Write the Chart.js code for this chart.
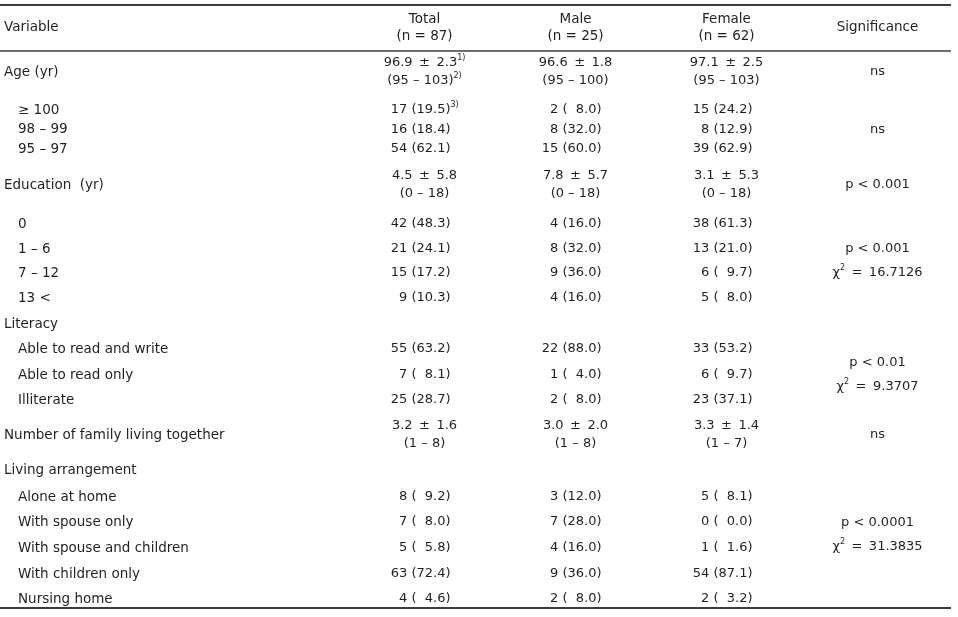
<!DOCTYPE html>
<html>
<head>
<meta charset="utf-8">
<script src="https://cdn.jsdelivr.net/npm/chart.js@4.4.1/dist/chart.umd.min.js"></script>
<style>
html,body{margin:0;padding:0;background:#ffffff;}
#wrap{width:958px;height:617px;position:relative;}
</style>
</head>
<body>
<div id="wrap"><canvas id="c" width="958" height="617"></canvas></div>
<script>
// ---------- DATA ----------
const columns = ['Total', 'Male', 'Female', 'Significance'];
const columnN = [87, 25, 62, null];
const headerVariable = 'Variable';

const variables = [
  'Age (yr)', '≥ 100', '98 – 99', '95 – 97',
  'Education  (yr)', '0', '1 – 6', '7 – 12', '13 <',
  'Literacy', 'Able to read and write', 'Able to read only', 'Illiterate',
  'Number of family living together',
  'Living arrangement', 'Alone at home', 'With spouse only', 'With spouse and children', 'With children only', 'Nursing home'
];
const indented = [0,1,1,1, 0,1,1,1,1, 0,1,1,1, 0, 0,1,1,1,1,1];
const rowKind = ['mean','count','count','count',
                 'mean','count','count','count','count',
                 'head','count','count','count',
                 'mean',
                 'head','count','count','count','count','count'];

// count rows: n (%)
const totalN    = [17, 16, 54, 42, 21, 15, 9, 55, 7, 25, 8, 7, 5, 63, 4];
const totalPct  = [19.5, 18.4, 62.1, 48.3, 24.1, 17.2, 10.3, 63.2, 8.1, 28.7, 9.2, 8.0, 5.8, 72.4, 4.6];
const maleN     = [2, 8, 15, 4, 8, 9, 4, 22, 1, 2, 3, 7, 4, 9, 2];
const malePct   = [8.0, 32.0, 60.0, 16.0, 32.0, 36.0, 16.0, 88.0, 4.0, 8.0, 12.0, 28.0, 16.0, 36.0, 8.0];
const femaleN   = [15, 8, 39, 38, 13, 6, 5, 33, 6, 23, 5, 0, 1, 54, 2];
const femalePct = [24.2, 12.9, 62.9, 61.3, 21.0, 9.7, 8.0, 53.2, 9.7, 37.1, 8.1, 0.0, 1.6, 87.1, 3.2];

// mean rows: mean ± SD (min – max)
const totalMean  = [96.9, 4.5, 3.2];
const totalSD    = [2.3, 5.8, 1.6];
const totalMin   = [95, 0, 1];
const totalMax   = [103, 18, 8];
const maleMean   = [96.6, 7.8, 3.0];
const maleSD     = [1.8, 5.7, 2.0];
const maleMin    = [95, 0, 1];
const maleMax    = [100, 18, 8];
const femaleMean = [97.1, 3.1, 3.3];
const femaleSD   = [2.5, 5.3, 1.4];
const femaleMin  = [95, 0, 1];
const femaleMax  = [103, 18, 7];

// footnote markers (Total column only)
const totalMeanNotes  = ['1)', '', ''];
const totalRangeNotes = ['2)', '', ''];
const totalCountNotes = ['3)', '', '', '', '', '', '', '', '', '', '', '', '', '', ''];

// significance: text lines and the rows they span
const sigText  = [['ns'], ['ns'], ['p < 0.001'], ['p < 0.001', 'χ2 = 16.7126'], ['p < 0.01', 'χ2 = 9.3707'], ['ns'], ['p < 0.0001', 'χ2 = 31.3835']];
const sigFirst = [0, 1, 4, 6, 10, 13, 16];
const sigLast  = [0, 3, 4, 7, 12, 13, 17];

// ---------- LAYOUT (not data) ----------
const W = 958, H = 617;
const headerCenter = 27.5, headerRuleY = 51, topRuleY = 5, bottomRuleY = 608;
const rowGaps = [21, 38, 19.5, 19.5, 36, 39, 25, 24, 25, 26, 25, 26, 25, 35, 35, 27, 25, 26, 26, 25];
const rowY = [];
rowGaps.reduce((acc, g) => { const v = acc + g; rowY.push(v); return v; }, headerRuleY);
const lineHalf = 9, headerHalf = 8.5, sigHalf = 12;
const labelX = 4, indentX = 18, countShift = 26, ruleRight = 951;
const FONT = '"DejaVu Sans", sans-serif';
const mainFont = '13px ' + FONT, labelFont = '13.5px ' + FONT, supFont = '8px ' + FONT;
const ink = '#231f20';

// ---------- helpers ----------
const EN = '\u2002';
function fmtPct(p) { const s = p.toFixed(1); return s.length < 4 ? '\u2007' + s : s; }
function seg(t, sup, font) { return { t: t, sup: !!sup, font: font }; }
function withNote(text, note) { return note ? [seg(text), seg(note, true)] : [seg(text)]; }
function chi(line) { // "χ2 = ..." -> χ + superscript 2 + rest
  if (line.startsWith('χ2')) return [seg('χ'), seg('2', true), seg(line.slice(2).replace(' = ', EN + '=' + EN))];
  return [seg(line)];
}

function buildColumn(label, N, P, M, SD, LO, HI, meanNotes, rangeNotes, countNotes) {
  const pts = []; let ci = 0, mi = 0;
  rowKind.forEach((k, r) => {
    if (k === 'count') {
      pts.push({ x: label, y: rowY[r], align: 'right',
        lines: [withNote(`${N[ci]} (${fmtPct(P[ci])})`, countNotes ? countNotes[ci] : '')] });
      ci++;
    } else if (k === 'mean') {
      pts.push({ x: label, y: rowY[r], align: 'center',
        lines: [withNote(`${M[mi].toFixed(1)}${EN}±${EN}${SD[mi].toFixed(1)}`, meanNotes ? meanNotes[mi] : ''),
                withNote(`(${LO[mi]} – ${HI[mi]})`, rangeNotes ? rangeNotes[mi] : '')] });
      mi++;
    }
  });
  return pts;
}

const headerPoints = columns.map((c, i) => ({
  x: c, y: headerCenter, align: 'center',
  lines: columnN[i] != null ? [[seg(c, false, labelFont)], [seg(`(n = ${columnN[i]})`, false, labelFont)]] : [[seg(c, false, labelFont)]],
  half: headerHalf
}));
const sigPoints = sigText.map((lines, i) => ({
  x: 'Significance', y: (rowY[sigFirst[i]] + rowY[sigLast[i]]) / 2, align: 'center',
  lines: lines.map(chi), half: sigHalf
}));

const datasets = [
  { label: 'header', data: headerPoints },
  { label: 'Total', data: buildColumn('Total', totalN, totalPct, totalMean, totalSD, totalMin, totalMax, totalMeanNotes, totalRangeNotes, totalCountNotes) },
  { label: 'Male', data: buildColumn('Male', maleN, malePct, maleMean, maleSD, maleMin, maleMax) },
  { label: 'Female', data: buildColumn('Female', femaleN, femalePct, femaleMean, femaleSD, femaleMin, femaleMax) },
  { label: 'Significance', data: sigPoints }
].map(d => Object.assign(d, { pointRadius: 0, pointHoverRadius: 0, showLine: false }));

function fontOf(s) { return s.sup ? supFont : (s.font || mainFont); }
function measureLine(ctx, segs) {
  let w = 0;
  segs.forEach(s => { ctx.font = fontOf(s); w += ctx.measureText(s.t).width; });
  return w;
}
function drawLine(ctx, segs, x, y) {
  let cx = x;
  segs.forEach(s => {
    ctx.font = fontOf(s);
    ctx.fillText(s.t, cx, s.sup ? y - 5 : y);
    cx += ctx.measureText(s.t).width;
  });
}

const tablePlugin = {
  id: 'tableText',
  afterDatasetsDraw(chart) {
    const ctx = chart.ctx, ys = chart.scales.y;
    ctx.save();
    ctx.fillStyle = ink;
    ctx.textBaseline = 'middle';
    ctx.textAlign = 'left';
    // rules
    ctx.strokeStyle = '#3c3c3c';
    [[topRuleY, 2], [headerRuleY, 1.5], [bottomRuleY, 2]].forEach(([v, lw]) => {
      const py = ys.getPixelForValue(v);
      ctx.lineWidth = lw;
      ctx.beginPath(); ctx.moveTo(0, py); ctx.lineTo(ruleRight, py); ctx.stroke();
    });
    // variable column
    ctx.font = labelFont;
    ctx.fillText(headerVariable, labelX, ys.getPixelForValue(headerCenter));
    variables.forEach((v, r) => {
      ctx.font = labelFont;
      ctx.fillText(v, indented[r] ? indentX : labelX, ys.getPixelForValue(rowY[r]));
    });
    // cells, placed at the points the library computed
    chart.data.datasets.forEach((ds, di) => {
      const meta = chart.getDatasetMeta(di);
      meta.data.forEach((el, i) => {
        const cell = ds.data[i];
        const n = cell.lines.length;
        const half = cell.half || lineHalf;
        cell.lines.forEach((segs, li) => {
          const ly = el.y + (n === 1 ? 0 : (li === 0 ? -half : half));
          let x;
          if (cell.align === 'right') {
            const mainW = measureLine(ctx, segs.filter(s => !s.sup));
            x = el.x + countShift - mainW;
          } else {
            x = el.x - measureLine(ctx, segs) / 2;
          }
          drawLine(ctx, segs, x, ly);
        });
      });
    });
    ctx.restore();
  }
};

new Chart(document.getElementById('c'), {
  type: 'scatter',
  data: { labels: columns, datasets: datasets },
  options: {
    responsive: false,
    animation: false,
    events: [],
    layout: { padding: { left: 349, right: 5, top: 0, bottom: 0 } },
    plugins: { legend: { display: false }, tooltip: { enabled: false } },
    scales: {
      x: { type: 'category', labels: columns, offset: true, display: false },
      y: { type: 'linear', min: 0, max: H, reverse: true, display: false }
    }
  },
  plugins: [tablePlugin]
});
</script>
</body>
</html>
